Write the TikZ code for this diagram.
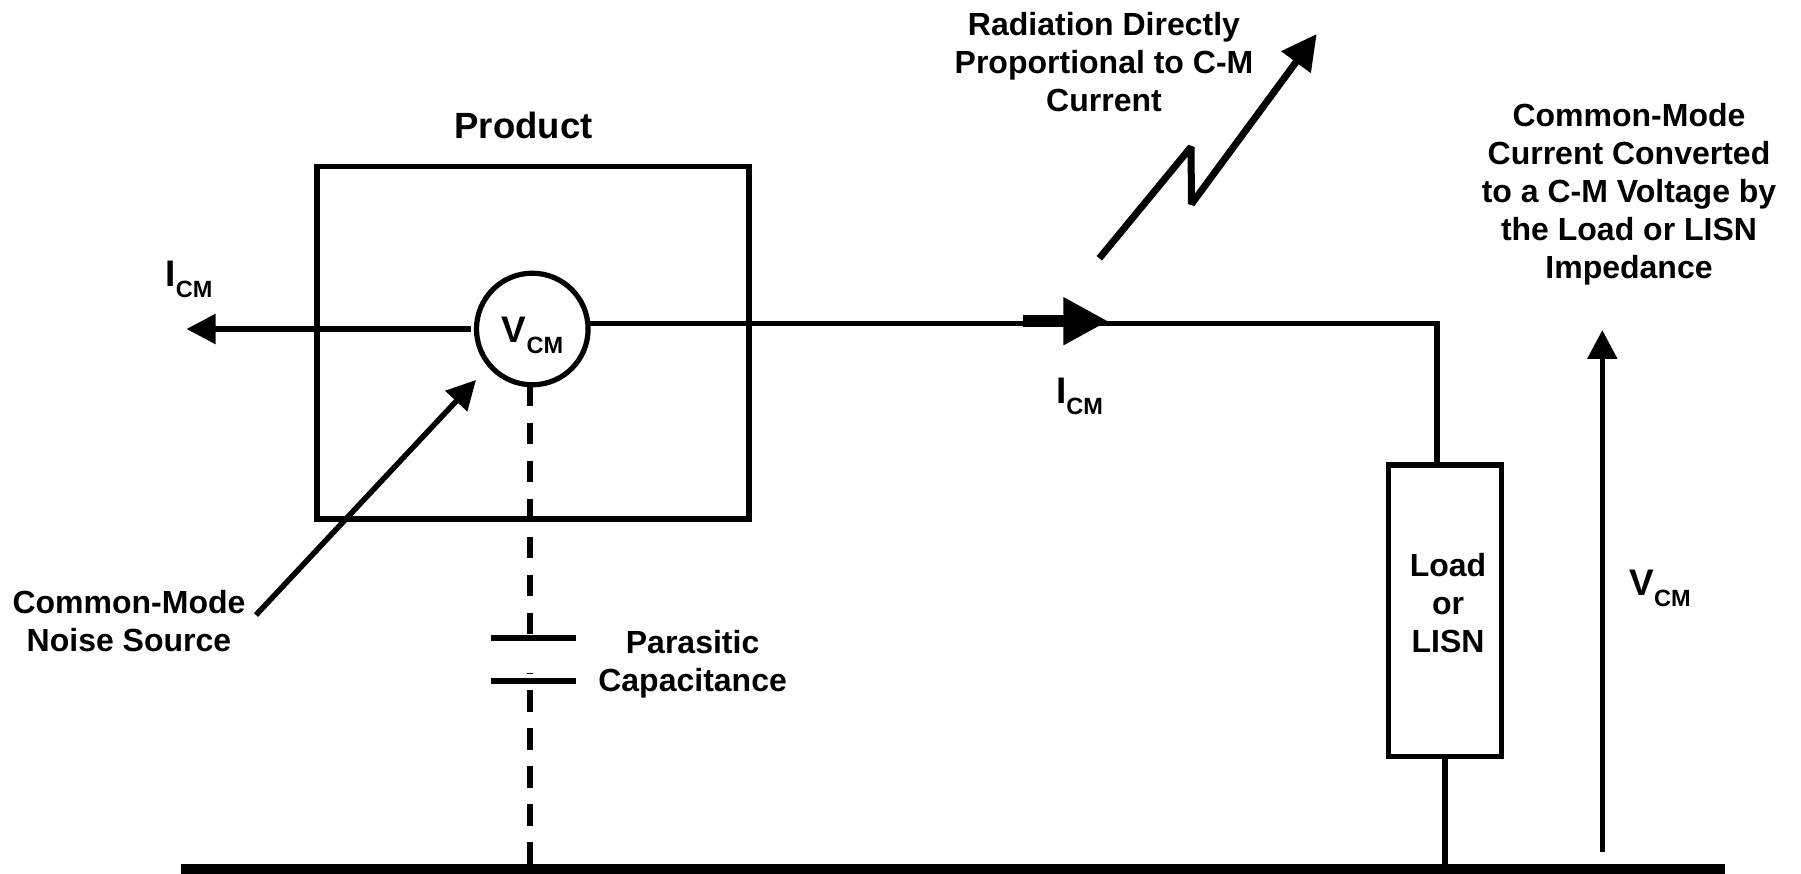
\documentclass[tikz,border=0pt]{standalone}
\usepackage{fontspec}
\setmainfont{Liberation Sans}
\usetikzlibrary{arrows.meta}
\newcommand{\cmlabel}[1]{%
 {\fontsize{37}{38}\selectfont #1\raisebox{-11pt}{\fontsize{23.5}{23.5}\selectfont CM}}%
}
\tikzset{
 wire/.style={line width=5.5pt},
 plate/.style={line width=6pt},
 dashwire/.style={line width=5.5pt,dash pattern=on 21.5pt off 16.5pt},
 bigtip/.style={-{Triangle[length=29pt,width=29pt]}},
}
\begin{document}
\begin{tikzpicture}[x=1pt,y=-1pt,every node/.style={font=\bfseries\fontsize{32}{38}\selectfont,inner sep=0pt,outer sep=0pt,align=center}]
   \useasboundingbox (0,0) rectangle (1801,874);
   \node (product) [draw,line width=5.4pt,minimum width=432pt,minimum height=352pt] at (533,342.8) {};
   \node (vcm) [draw,circle,line width=5.2pt,minimum size=111.6pt] at (532.3,329) {};
   \node (load) [draw,line width=5.4pt,minimum width=113.4pt,minimum height=291.7pt] at (1445,610.8) {};
   % free ends
   \coordinate (gndl) at (180.5,869);
   \coordinate (gndr) at (1725,869);
   \coordinate (capa) at (530,638);
   \coordinate (capb) at (530,680.7);
   \coordinate (capfoot) at (530,864);
   \coordinate (captick) at (530,672.5);
   \coordinate (left) at (186.5,329);
   \coordinate (src) at (256,615);
   \coordinate (srctip) at (476,380);
   \coordinate (curra) at (1023.3,321.2);
   \coordinate (currb) at (1108.3,321.2);
   \coordinate (ziga) at (1099.3,258.3);
   \coordinate (zigb) at (1191,147);
   \coordinate (zigc) at (1191.5,204);
   \coordinate (zigd) at (1316.7,34);
   \coordinate (vbot) at (1602.3,851.7);
   \coordinate (vtop) at (1602.3,330);
   % ground and wires
   \draw [line width=10pt] (gndl) -- (gndr);
   \draw [bigtip,wire] ([xshift=-6pt]vcm.west) -- (left);
   \draw [wire] ([yshift=5.3pt]vcm.east) -| ([xshift=-8pt]load.north);
   \draw [wire] (load.south) -- (load.south |- gndl);
   \draw [-{Triangle[length=45pt,width=45pt]},line width=12pt] (curra) -- (currb);
   \draw [-{Triangle[length=35pt,width=35pt]},line width=7pt,line join=bevel] (ziga) -- (zigb) -- (zigc) -- (zigd);
   \draw [bigtip,wire] (src) -- (srctip);
   \draw [bigtip,wire] (vbot) -- (vtop);
   % capacitor
   \draw [dashwire] (capa |- vcm.south) -- (capa);
   \draw [wire,dash pattern=on 22pt off 16pt] (capfoot) -- (captick);
   \draw [plate] ([xshift=-39pt]capa) -- ([xshift=46pt]capa);
   \draw [plate] ([xshift=-39pt]capb) -- ([xshift=46pt]capb);
   % labels
   \node (producttext) [anchor=base,font=\bfseries\fontsize{36.5}{38}\selectfont] at (523.5,139) {Product};
   \node (vcmtext) [anchor=base] at (532.5,342.7) {\cmlabel{V}};
   \node (ileft) [anchor=base] at (189,286.7) {\cmlabel{I}};
   \node (imid) [anchor=base] at (1079.6,403) {\cmlabel{I}};
   \node (vright) [anchor=base] at (1660,595) {\cmlabel{V}};
   \node (loadtext) [anchor=base] at (1448,652.3) {Load\\or\\LISN};
   \node (srctext) [anchor=base] at (129,651.3) {Common-Mode\\Noise Source};
   \node (captext) [anchor=base] at (692.6,691.3) {Parasitic\\Capacitance};
   \node (radtext) [anchor=base] at (1104,111.3) {Radiation Directly\\Proportional to C-M\\Current};
   \node (convtext) [anchor=base] at (1629,279) {Common-Mode\\Current Converted\\to a C-M Voltage by\\the Load or LISN\\Impedance};
\end{tikzpicture}
\end{document}
